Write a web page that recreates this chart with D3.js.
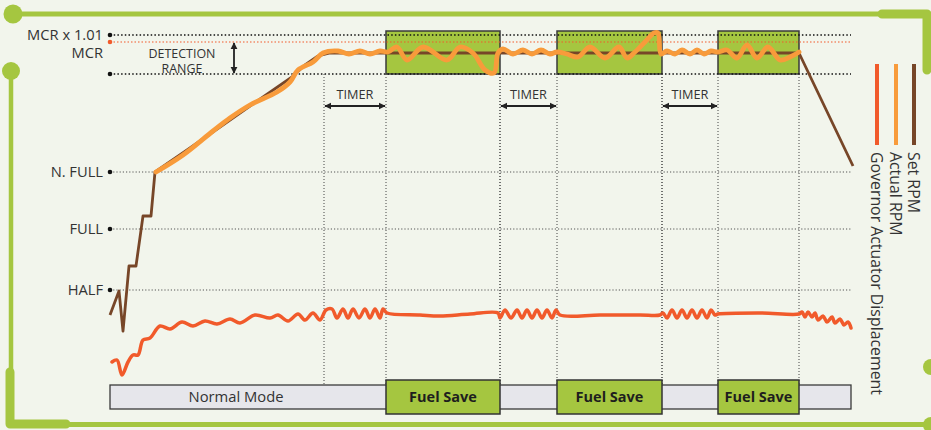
<!DOCTYPE html>
<html>
<head>
<meta charset="utf-8">
<script src="https://cdn.jsdelivr.net/npm/d3@7"></script>
<style>
  body { margin: 0; background: #f2f5ec; }
  svg { display: block; font-family: "Open Sans", sans-serif; }
</style>
</head>
<body>
<svg id="chart" width="931" height="430"></svg>
<script>
// rpm levels (arbitrary units, 0 = idle)
const levelNames = ["MCR x 1.01", "MCR", "N. FULL", "FULL", "HALF"];
const levelValues = [175, 166, 106.5, 78, 47.5];
const gridLevels = [106.5, 78, 47.5];
const detectTop = 175, detectLow = 155.5, mcrWarn = 171.5;

// timeline (seconds)
const tEnd = 370.5;
const timerStart = [107, 195, 276];
const fuelStart = [138, 223.5, 304];
const fuelEnd = [195, 276, 344.5];

const setRpm = [
  [0, 35], [4.5, 47], [6.5, 27], [9.5, 59.5], [13, 59.5], [16.5, 84.5], [20.5, 84.5],
  [22.5, 106.5], [40, 118.5], [55, 129], [70, 139.5], [91, 154], [97.5, 160],
  [104, 164.5], [110, 166], [344.5, 166], [371.5, 109.5]
];

const actualRpm = [
  [23, 106.5], [36.5, 115], [51.5, 127], [60, 133.5], [70, 140], [83.5, 146.5],
  [90, 151.5], [94, 157.5], [101.5, 161.5], [106.5, 166],
  [114, 167], [119.5, 165.5], [125, 167], [130, 165.5], [135, 167], [139, 166.5],
  [143.5, 169], [148.5, 162.5], [156.5, 169], [168.5, 162.5], [175, 169], [181.5, 166],
  [187.5, 157.5], [192, 156], [194, 166], [196.5, 168],
  [201.5, 165.5], [206.5, 167.5], [211, 165.5], [215.5, 167.5], [220, 165.5], [223.5, 166.5],
  [228.5, 165.5], [234, 164], [240, 169], [247.5, 163.5], [254.5, 169], [258.5, 163.5],
  [262.5, 166.5], [267.5, 171.5], [272, 176], [274, 176], [275.5, 165.5],
  [278.5, 167], [282.5, 165.5], [286, 167.5], [290, 165.5], [293.5, 167.5], [297, 165.5],
  [300.5, 167], [304, 166.5],
  [308.5, 167.5], [313.5, 163.5], [318.5, 170], [323.5, 163.5], [329, 169], [335, 162.5],
  [340, 164], [344.5, 166.5]
];

const governor = [
  [1, 11.5], [3.5, 12.5], [6, 5], [9, 11.5], [11.5, 15], [14, 15], [16.5, 22.5], [20, 23.5],
  [25, 29.5], [30, 28], [36, 31.5], [41.5, 29.5], [47.5, 32], [53.5, 30.5], [60, 33],
  [65, 31], [72.5, 35], [80, 33.5], [84, 35], [89, 32], [94, 35.5], [97.5, 32.5],
  [101.5, 36], [105, 32.5], [108, 37.5],
  [111, 38], [113.5, 33.5], [116.5, 38], [119, 33.5], [121.5, 38], [124.5, 33.5],
  [127.5, 38], [130, 33.5], [132.5, 38], [135, 33.5], [136.5, 38], [138.5, 36],
  [155, 35], [165, 34.5], [180, 35.5], [194, 36],
  [195, 33.5], [197.5, 37.5], [200.5, 33.5], [203.5, 37.5], [206, 33.5], [208.5, 37.5],
  [211, 33.5], [213.5, 37.5], [216, 33.5], [218.5, 37.5], [221, 33.5], [223, 37.5],
  [225, 35], [245, 35], [265, 35], [275, 35],
  [276.5, 36], [278.5, 33.5], [281, 37.5], [283.5, 33.5], [286, 37.5], [288.5, 33.5],
  [291, 37.5], [293.5, 33.5], [296, 37.5], [298.5, 33.5], [300.5, 37.5], [302.5, 35],
  [304, 35.5], [325, 36], [344.5, 35.5],
  [346, 36.5], [347.5, 34], [349, 36.5], [351, 34], [352.5, 36], [354, 32.5], [356.5, 34.5],
  [358.5, 31.5], [361, 34], [362.5, 31], [365, 33], [367, 30], [369, 31.5], [370.5, 28.5]
];

const legendNames = ["Governor Actuator Displacement", "Actual RPM", "Set RPM"];
const legendColors = ["#f15a2b", "#f89b3b", "#774628"];

const green = "#a5c640";
const ink = "#333";

const svg = d3.select("#chart");
const x = d3.scaleLinear().domain([0, tEnd]).range([110, 851]);
const y = d3.scaleLinear().domain([0, 175]).range([385, 35]);

// scale a group of texts so that its reference text gets the wanted width
function fitSize(sel, refNode, width) {
  const fs = parseFloat(d3.select(refNode).attr("font-size"));
  const w = refNode.getComputedTextLength();
  sel.attr("font-size", fs * width / w);
}

// arrow heads
const defs = svg.append("defs");
defs.append("marker")
    .attr("id", "head")
    .attr("viewBox", "0 0 10 10")
    .attr("refX", 9).attr("refY", 5)
    .attr("markerWidth", 4).attr("markerHeight", 4)
    .attr("orient", "auto-start-reverse")
  .append("path")
    .attr("d", "M0,0 L10,5 L0,10 z")
    .attr("fill", "#222");

// decorative frame
const frame = svg.append("g").attr("fill", "none").attr("stroke", green)
    .attr("stroke-linecap", "round").attr("stroke-linejoin", "round");
frame.append("path").attr("d", "M13,14 H880").attr("stroke-width", 5);
frame.append("path").attr("d", "M882,14 H927 V70").attr("stroke-width", 9);
frame.append("path").attr("d", "M11,71 V370").attr("stroke-width", 4.5);
frame.append("path").attr("d", "M10,372 V424 H66").attr("stroke-width", 9);
frame.append("path").attr("d", "M66,424.5 H931").attr("stroke-width", 5);
[[13, 14, 9.5], [11, 71, 9], [931, 367, 8], [931, 425, 8]].forEach(c => {
  svg.append("circle").attr("cx", c[0]).attr("cy", c[1]).attr("r", c[2]).attr("fill", green);
});

// fuel save windows in the detection band
svg.selectAll(".fsband")
  .data(fuelStart)
  .enter()
  .append("rect")
    .attr("x", (d, i) => x(d))
    .attr("y", y(177))
    .attr("width", (d, i) => x(fuelEnd[i]) - x(d))
    .attr("height", y(detectLow) - y(177))
    .attr("fill", green)
    .attr("stroke", "#3a3a3a")
    .attr("stroke-width", 1.5);

// grid lines
svg.selectAll(".grid")
  .data(gridLevels)
  .enter()
  .append("line")
    .attr("x1", x(0)).attr("x2", x(tEnd))
    .attr("y1", d => y(d)).attr("y2", d => y(d))
    .attr("stroke", "#555").attr("stroke-width", 1)
    .attr("stroke-dasharray", "1.2,2");

svg.selectAll(".detect")
  .data([detectTop, detectLow])
  .enter()
  .append("line")
    .attr("x1", x(0)).attr("x2", x(tEnd))
    .attr("y1", d => y(d)).attr("y2", d => y(d))
    .attr("stroke", "#111").attr("stroke-width", 1.6)
    .attr("stroke-dasharray", "1.5,2.2");

svg.append("line")
    .attr("x1", x(0)).attr("x2", x(tEnd))
    .attr("y1", y(mcrWarn)).attr("y2", y(mcrWarn))
    .attr("stroke", "#f15a2b").attr("stroke-width", 1.2)
    .attr("stroke-dasharray", "1.5,2");

svg.selectAll(".dot")
  .data([detectTop, detectLow].concat(gridLevels))
  .enter()
  .append("circle")
    .attr("cx", x(0)).attr("cy", d => y(d)).attr("r", 2.3).attr("fill", "#111");
svg.append("circle").attr("cx", x(0)).attr("cy", y(mcrWarn)).attr("r", 2.3).attr("fill", "#f15a2b");

// vertical timeline markers
svg.selectAll(".vline")
  .data(timerStart.concat(fuelStart, fuelEnd))
  .enter()
  .append("line")
    .attr("x1", d => x(d)).attr("x2", d => x(d))
    .attr("y1", y(detectLow)).attr("y2", y(0))
    .attr("stroke", "#444").attr("stroke-width", 1)
    .attr("stroke-dasharray", "1,2");

// level labels
const lvl = svg.selectAll(".lvl")
  .data(levelNames)
  .enter()
  .append("text")
    .attr("x", x(0) - 7)
    .attr("y", (d, i) => y(levelValues[i]))
    .attr("dy", "0.36em")
    .attr("text-anchor", "end")
    .attr("font-size", 15)
    .attr("fill", ink)
    .text(d => d);
fitSize(lvl, lvl.node(), 76);

// detection range annotation
const det = svg.append("g").attr("fill", ink).attr("text-anchor", "middle");
const detA = det.append("text").attr("x", x(36)).attr("y", 58).attr("font-size", 11.5).text("DETECTION");
det.append("text").attr("x", x(36)).attr("y", 72.5).attr("font-size", 11.5).text("RANGE");
fitSize(det.selectAll("text"), detA.node(), 67);
svg.append("line")
    .attr("x1", x(62)).attr("x2", x(62))
    .attr("y1", y(mcrWarn) + 1).attr("y2", y(detectLow) - 1)
    .attr("stroke", "#222").attr("stroke-width", 1.8)
    .attr("marker-start", "url(#head)").attr("marker-end", "url(#head)");

// timer arrows
svg.selectAll(".timer")
  .data(timerStart)
  .enter()
  .append("line")
    .attr("x1", d => x(d) + 1)
    .attr("x2", (d, i) => x(fuelStart[i]) - 1)
    .attr("y1", y(139.5)).attr("y2", y(139.5))
    .attr("stroke", "#222").attr("stroke-width", 1.8)
    .attr("marker-start", "url(#head)").attr("marker-end", "url(#head)");
const timerLbl = svg.selectAll(".timerlbl")
  .data(timerStart)
  .enter()
  .append("text")
    .attr("x", (d, i) => (x(d) + x(fuelStart[i])) / 2)
    .attr("y", y(139.5) - 7)
    .attr("text-anchor", "middle")
    .attr("font-size", 13)
    .attr("fill", ink)
    .text("TIMER");
fitSize(timerLbl, timerLbl.node(), 37);

// series
const line = d3.line().x(d => x(d[0])).y(d => y(d[1]));
svg.append("path")
    .attr("d", line.curve(d3.curveLinear)(setRpm))
    .attr("fill", "none").attr("stroke", "#774628").attr("stroke-width", 2.8)
    .attr("stroke-linejoin", "round");
svg.append("path")
    .attr("d", line.curve(d3.curveCatmullRom.alpha(0.5))(actualRpm))
    .attr("fill", "none").attr("stroke", "#f89b3b").attr("stroke-width", 4.8)
    .attr("stroke-linecap", "round").attr("stroke-linejoin", "round");
svg.append("path")
    .attr("d", line.curve(d3.curveCatmullRom.alpha(0.5))(governor))
    .attr("fill", "none").attr("stroke", "#f15a2b").attr("stroke-width", 3.5)
    .attr("stroke-linecap", "round").attr("stroke-linejoin", "round");

// mode bar
svg.append("rect")
    .attr("x", x(0)).attr("y", y(0))
    .attr("width", x(tEnd) - x(0)).attr("height", y(-12) - y(0))
    .attr("fill", "#e6e6eb").attr("stroke", "#3a3a3a").attr("stroke-width", 1.3);
const normal = svg.append("text")
    .attr("x", x(63)).attr("y", y(-6)).attr("dy", "0.35em")
    .attr("text-anchor", "middle").attr("font-size", 15).attr("fill", ink)
    .text("Normal Mode");
fitSize(normal, normal.node(), 95);
svg.selectAll(".fsbox")
  .data(fuelStart)
  .enter()
  .append("rect")
    .attr("x", d => x(d))
    .attr("y", y(2.5))
    .attr("width", (d, i) => x(fuelEnd[i]) - x(d))
    .attr("height", y(-14.5) - y(2.5))
    .attr("fill", green).attr("stroke", "#333").attr("stroke-width", 1.5);
const fsLbl = svg.selectAll(".fslbl")
  .data(fuelStart)
  .enter()
  .append("text")
    .attr("x", (d, i) => (x(d) + x(fuelEnd[i])) / 2)
    .attr("y", y(-6)).attr("dy", "0.35em")
    .attr("text-anchor", "middle").attr("font-size", 15).attr("font-weight", "bold")
    .attr("fill", "#1e1e1e")
    .text("Fuel Save");
fitSize(fsLbl, fsLbl.node(), 68);

// legend
const legendX = [877, 896, 914];
const legendTxt = svg.selectAll(".legtxt")
  .data(legendNames)
  .enter()
  .append("text")
    .attr("transform", (d, i) => `translate(${legendX[i]}, 152) rotate(90)`)
    .attr("dy", "0.36em")
    .attr("font-size", 15)
    .attr("fill", ink)
    .text(d => d);
fitSize(legendTxt, legendTxt.node(), 243);
svg.selectAll(".legline")
  .data(legendNames)
  .enter()
  .append("line")
    .attr("x1", (d, i) => legendX[i]).attr("x2", (d, i) => legendX[i])
    .attr("y1", 64).attr("y2", 145)
    .attr("stroke", (d, i) => legendColors[i]).attr("stroke-width", 4);
</script>
</body>
</html>
